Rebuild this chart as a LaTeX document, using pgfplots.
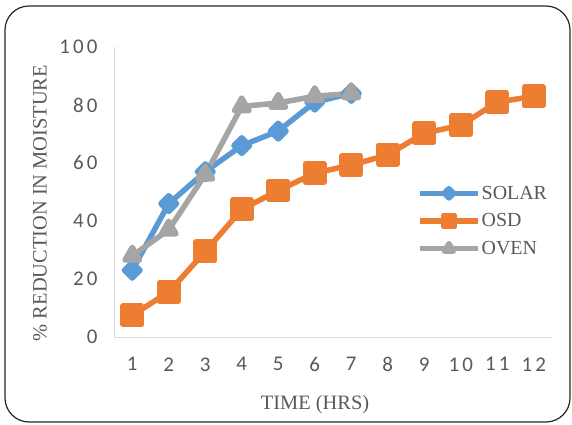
\documentclass[border=0pt]{standalone}
\usepackage{pgfplots}
\pgfplotsset{compat=1.18}
\usepackage{fontspec}
\setmainfont{Liberation Serif}
\newfontfamily\tickfont[LetterSpace=15]{Carlito}

\definecolor{solar}{HTML}{5B9BD5}
\definecolor{osd}{HTML}{ED7D31}
\definecolor{oven}{HTML}{A5A5A5}
\definecolor{txt}{HTML}{595959}
\definecolor{axgray}{HTML}{D9D9D9}

\begin{document}
\begin{tikzpicture}
\useasboundingbox (0,0) rectangle (572bp,425bp);
\draw[line width=1.2bp, color=black!85, rounded corners=24bp] (5bp,3bp) rectangle (570bp,419bp);

\begin{axis}[
  at={(114bp,88bp)}, anchor=south west,
  scale only axis,
  width=438bp, height=290bp,
  xmin=0.5, xmax=12.5,
  ymin=0, ymax=100,
  axis x line*=bottom, axis y line*=left,
  axis line style={-, draw=axgray, line width=0.8bp},
  major tick length=0,
  xtick={1,...,12},
  ytick={0,20,40,60,80,100},
  tick label style={font=\tickfont\fontsize{21}{24}\selectfont, text=txt},
  /pgf/number format/assume math mode=true,
  yticklabel style={xshift=-13bp},
  xticklabel style={yshift=-17bp},
  xlabel={TIME (HRS)},
  ylabel={\% REDUCTION IN MOISTURE},
  label style={font=\fontsize{20.5}{24}\selectfont, text=txt},
  xlabel style={at={(rel axis cs:0.459,-0.234)}, anchor=center},
  ylabel style={at={(rel axis cs:-0.169,0.462)}, anchor=center, rotate=0},
  legend style={draw=none, fill=none, at={(rel axis cs:0.685,0.40)}, anchor=west,
    font=\fontsize{20}{22}\selectfont, text=txt, row sep=11bp,
    nodes={inner sep=1bp}},
  legend cell align=left,
  legend image code/.code={
    \draw[#1, every mark/.append style={scale=0.6}, mark repeat=2, mark phase=2]
      plot coordinates {(0bp,0bp) (29bp,0bp) (58bp,0bp)};},
  clip=false,
  line join=round,
]

\addplot[color=solar, line width=5.5bp, mark=square*, mark size=5.5bp,
  mark options={rotate=45, solid, fill=solar}]
  coordinates {(1,23)(2,46)(3,57)(4,66)(5,71)(6,81)(7,84)};
\addlegendentry{SOLAR}

\addplot[color=osd, line width=5.5bp, mark=square*, mark size=9.2bp,
  mark options={solid, fill=osd}]
  coordinates {(1,7.5)(2,15.5)(3,29.5)(4,44)(5,50.5)(6,56.5)(7,59.3)(8,62.8)(9,70.3)(10,73)(11,81)(12,83)};
\addlegendentry{OSD}

\addplot[color=oven, line width=5.5bp, mark=triangle*, mark size=8.4bp,
  mark options={solid, fill=oven}]
  coordinates {(1,28)(2,37)(3,56)(4,79.5)(5,80.7)(6,83)(7,84)};
\addlegendentry{OVEN}

\end{axis}
\end{tikzpicture}
\end{document}
